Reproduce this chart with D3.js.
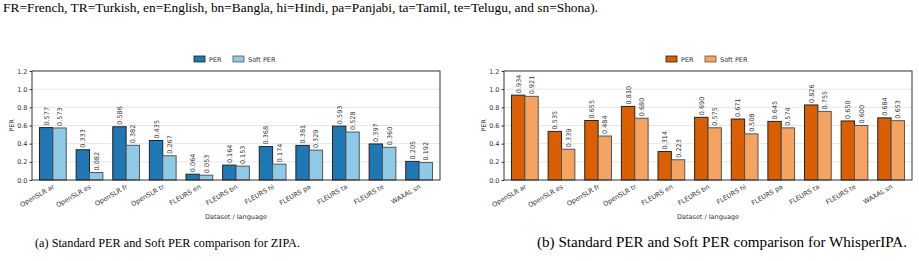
<!DOCTYPE html>
<html>
<head>
<meta charset="utf-8">
<script src="https://cdn.jsdelivr.net/npm/d3@7"></script>
<style>
  body { margin: 0; background: #fff; }
  svg { display: block; }
</style>
</head>
<body>
<svg id="fig" width="919" height="261"></svg>
<script>
// data
const datasets = ["OpenSLR ar", "OpenSLR es", "OpenSLR fr", "OpenSLR tr", "FLEURS en",
  "FLEURS bn", "FLEURS hi", "FLEURS pa", "FLEURS ta", "FLEURS te", "WAXAL sn"];
const zipaPer  = [0.577, 0.333, 0.586, 0.435, 0.064, 0.164, 0.368, 0.381, 0.593, 0.397, 0.205];
const zipaSoft = [0.573, 0.082, 0.382, 0.267, 0.053, 0.153, 0.174, 0.329, 0.528, 0.360, 0.192];
const whisperPer  = [0.934, 0.535, 0.655, 0.810, 0.314, 0.690, 0.671, 0.645, 0.826, 0.650, 0.684];
const whisperSoft = [0.921, 0.339, 0.484, 0.680, 0.223, 0.575, 0.508, 0.574, 0.755, 0.600, 0.653];
const yTicks = [0.0, 0.2, 0.4, 0.6, 0.8, 1.0, 1.2];
const seriesNames = ["PER", "Soft PER"];

const topText = "FR=French, TR=Turkish, en=English, bn=Bangla, hi=Hindi, pa=Panjabi, ta=Tamil, te=Telugu, and sn=Shona).";
const captions = ["(a) Standard PER and Soft PER comparison for ZIPA.",
  "(b) Standard PER and Soft PER comparison for WhisperIPA."];

const svg = d3.select("#fig");
const sans = "DejaVu Sans, sans-serif";
const serif = "Liberation Serif, Times New Roman, serif";
const txtCol = "#333";

svg.append("text")
  .attr("x", 3).attr("y", 12)
  .attr("font-family", serif).attr("font-size", 13)
  .attr("textLength", 595).attr("lengthAdjust", "spacingAndGlyphs")
  .attr("fill", "#000")
  .text(topText);

function drawPanel(x0, x1, per, soft, colors, caption, capX, capW, capSize) {
  const top = 71, bottom = 180;
  const g = svg.append("g");

  const x = d3.scaleLinear().domain([-0.57, datasets.length - 0.43]).range([x0, x1]);
  const y = d3.scaleLinear().domain([0, 1.2]).range([bottom, top]);
  const bw = 0.365;

  // grid
  g.selectAll(".grid").data(yTicks.filter(t => t > 0 && t < 1.2)).join("line")
    .attr("x1", x0).attr("x2", x1)
    .attr("y1", d => y(d)).attr("y2", d => y(d))
    .attr("stroke", "#e6e6e6").attr("stroke-width", 1);

  [per, soft].forEach((vals, s) => {
    const off = s === 0 ? -bw : 0;
    g.selectAll(".bar" + s).data(vals).join("rect")
      .attr("x", (d, i) => x(i + off))
      .attr("y", d => y(d))
      .attr("width", x(bw) - x(0))
      .attr("height", d => bottom - y(d))
      .attr("fill", colors[s])
      .attr("stroke", s === 0 ? "#222" : "#555")
      .attr("stroke-width", 1);

    g.selectAll(".lab" + s).data(vals).join("text")
      .attr("transform", (d, i) => `translate(${x(i + off + bw / 2) + 2.5},${y(d) - 2}) rotate(-90)`)
      .attr("font-family", sans).attr("font-size", 6.5)
      .attr("fill", txtCol)
      .text(d => d.toFixed(3));
  });

  // frame
  g.append("rect")
    .attr("x", x0).attr("y", top)
    .attr("width", x1 - x0).attr("height", bottom - top)
    .attr("fill", "none").attr("stroke", "#333").attr("stroke-width", 1);

  // y axis
  const yAxis = g.append("g").attr("transform", `translate(${x0},0)`)
    .call(d3.axisLeft(y).tickValues(yTicks).tickFormat(d3.format(".1f")).tickSize(2.5).tickPadding(2));
  yAxis.select(".domain").remove();
  yAxis.selectAll("line").attr("stroke", "#333");
  yAxis.selectAll("text").attr("font-family", sans).attr("font-size", 6.5).attr("fill", txtCol);

  // x tick labels
  g.selectAll(".xt").data(datasets).join("text")
    .attr("transform", (d, i) => `translate(${x(i) + 2},${bottom + 8}) rotate(-30)`)
    .attr("text-anchor", "end")
    .attr("font-family", sans).attr("font-size", 6.5)
    .attr("fill", txtCol)
    .text(d => d);

  g.append("text")
    .attr("x", (x0 + x1) / 2).attr("y", 219)
    .attr("text-anchor", "middle")
    .attr("font-family", sans).attr("font-size", 6.5).attr("fill", txtCol)
    .text("Dataset / language");

  g.append("text")
    .attr("transform", `translate(${x0 - 18},${(top + bottom) / 2}) rotate(-90)`)
    .attr("text-anchor", "middle")
    .attr("font-family", sans).attr("font-size", 6.5).attr("fill", txtCol)
    .text("PER");

  // legend
  const cx = (x0 + x1) / 2;
  const lx = [cx - 42, cx - 3];
  seriesNames.forEach((n, s) => {
    g.append("rect")
      .attr("x", lx[s]).attr("y", 56)
      .attr("width", 11).attr("height", 6)
      .attr("fill", colors[s]).attr("stroke", s === 0 ? "#222" : "#555").attr("stroke-width", 0.8);
    g.append("text")
      .attr("x", lx[s] + 15).attr("y", 61.5)
      .attr("font-family", sans).attr("font-size", 6.5).attr("fill", txtCol)
      .text(n);
  });

  svg.append("text")
    .attr("x", capX).attr("y", 247)
    .attr("font-family", serif).attr("font-size", capSize)
    .attr("textLength", capW).attr("lengthAdjust", "spacingAndGlyphs")
    .attr("fill", "#000")
    .text(caption);
}

drawPanel(32, 440, zipaPer, zipaSoft, ["#1f77b4", "#8ecae6"], captions[0], 35, 265, 13);
drawPanel(504, 912, whisperPer, whisperSoft, ["#d95f02", "#f4a460"], captions[1], 537, 370, 14.5);
</script>
</body>
</html>
